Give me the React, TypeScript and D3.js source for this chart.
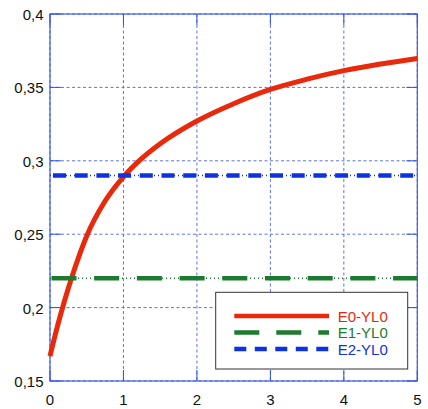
import React from "react";
import * as d3 from "d3";

const xTicks = [0, 1, 2, 3, 4, 5];
const yTicks = [0.15, 0.2, 0.25, 0.3, 0.35, 0.4];
const yTickLabels = ["0,15", "0,2", "0,25", "0,3", "0,35", "0,4"];

const e0X = [0, 0.1, 0.2, 0.3, 0.4, 0.5, 0.75, 1.0, 1.25, 1.5, 2.0, 2.5, 3.0, 3.5, 4.0, 4.5, 5.0];
const e0Y = [0.167, 0.187, 0.205, 0.2212, 0.2358, 0.2488, 0.2726, 0.2891, 0.3016, 0.3116, 0.3271, 0.3389, 0.3486, 0.3556, 0.3614, 0.3659, 0.3697];
const e1Value = 0.22;
const e2Value = 0.29;

const seriesNames = ["E0-YL0", "E1-YL0", "E2-YL0"];
const RED = "#e8290b";
const GREEN = "#1d7a2e";
const BLUE = "#0c32e2";
const GRID = "#5c74e6";

export default function App() {
  const W = 428, H = 409;
  const L = 50, R = 417.3, T = 14, B = 381;
  const x = d3.scaleLinear().domain([0, 5]).range([L, R]);
  const y = d3.scaleLinear().domain([0.15, 0.4]).range([B, T]);
  const line = d3
    .line<number>()
    .x((_, i) => x(e0X[i]))
    .y((d) => y(d))
    .curve(d3.curveMonotoneX);
  const font = "'Liberation Sans', Arial, Helvetica, sans-serif";
  const tickLen = 11;

  const legX = 215.7, legY = 292.3, legW = 192, legH = 76.7;
  const rows = [316, 332.5, 349];
  const lx1 = 234.3, lx2 = 329;

  return (
    <svg width={W} height={H} style={{ position: "absolute", left: 0, top: 0, background: "#fff" }}>
      <rect x={0} y={0} width={W} height={H} fill="#fff" />
      {/* grid */}
      {xTicks.map((t) => (
        <line key={"gx" + t} x1={x(t)} x2={x(t)} y1={T} y2={B} stroke={GRID} strokeWidth={1} strokeDasharray="3,2.5" />
      ))}
      {yTicks.map((t) => (
        <line key={"gy" + t} x1={L} x2={R} y1={y(t)} y2={y(t)} stroke={GRID} strokeWidth={1} strokeDasharray="3,2.5" />
      ))}
      {/* frame */}
      <rect x={L} y={T} width={R - L} height={B - T} fill="none" stroke="#3d5ee2" strokeWidth={1.2} />
      {/* ticks */}
      {xTicks.map((t) => (
        <g key={"tx" + t}>
          <line x1={x(t)} x2={x(t)} y1={B} y2={B - tickLen} stroke="#2f52e0" strokeWidth={1} />
          <line x1={x(t)} x2={x(t)} y1={T} y2={T + tickLen} stroke="#2f52e0" strokeWidth={1} />
        </g>
      ))}
      {yTicks.map((t) => (
        <g key={"ty" + t}>
          <line x1={L} x2={L + tickLen} y1={y(t)} y2={y(t)} stroke="#2f52e0" strokeWidth={1} />
          <line x1={R} x2={R - tickLen} y1={y(t)} y2={y(t)} stroke="#2f52e0" strokeWidth={1} />
        </g>
      ))}
      {/* tick labels */}
      {xTicks.map((t) => (
        <text key={"lx" + t} x={x(t)} y={405} textAnchor="middle" fontFamily={font} fontSize={15} fill="#111">
          {String(t)}
        </text>
      ))}
      {yTicks.map((t, i) => (
        <text key={"ly" + t} x={43.5} y={y(t) + 6} textAnchor="end" fontFamily={font} fontSize={15} fill="#111">
          {yTickLabels[i]}
        </text>
      ))}
      {/* series */}
      <path d={line(e0Y) || ""} fill="none" stroke={RED} strokeWidth={5} />
      <line x1={x(0)} x2={x(5)} y1={y(e1Value)} y2={y(e1Value)} stroke={GREEN} strokeWidth={1.3} strokeDasharray="1,3" />
      <line x1={x(0)} x2={x(5)} y1={y(e1Value)} y2={y(e1Value)} stroke={GREEN} strokeWidth={4.5} strokeDasharray="25,17.7" strokeDashoffset={-1.5} />
      <line x1={x(0)} x2={x(5)} y1={y(e2Value)} y2={y(e2Value)} stroke={BLUE} strokeWidth={1.3} strokeDasharray="1,3" />
      <line x1={x(0)} x2={x(5)} y1={y(e2Value)} y2={y(e2Value)} stroke={BLUE} strokeWidth={4.5} strokeDasharray="13,8.7" strokeDashoffset={-3} />
      {/* legend */}
      <rect x={legX} y={legY} width={legW} height={legH} fill="#fff" stroke="#333" strokeWidth={1} />
      <line x1={lx1} x2={lx2} y1={rows[0]} y2={rows[0]} stroke={RED} strokeWidth={4.5} />
      <line x1={lx1} x2={lx2} y1={rows[1]} y2={rows[1]} stroke={GREEN} strokeWidth={4.5} strokeDasharray="25,17" />
      <line x1={lx1} x2={lx2} y1={rows[2]} y2={rows[2]} stroke={BLUE} strokeWidth={4.5} strokeDasharray="12,8.5" />
      {[RED, GREEN, BLUE].map((c, i) => (
        <text key={"leg" + i} x={337.7} y={rows[i] + 5.5} fontFamily={font} fontSize={15} fill={c}>
          {seriesNames[i]}
        </text>
      ))}
    </svg>
  );
}
